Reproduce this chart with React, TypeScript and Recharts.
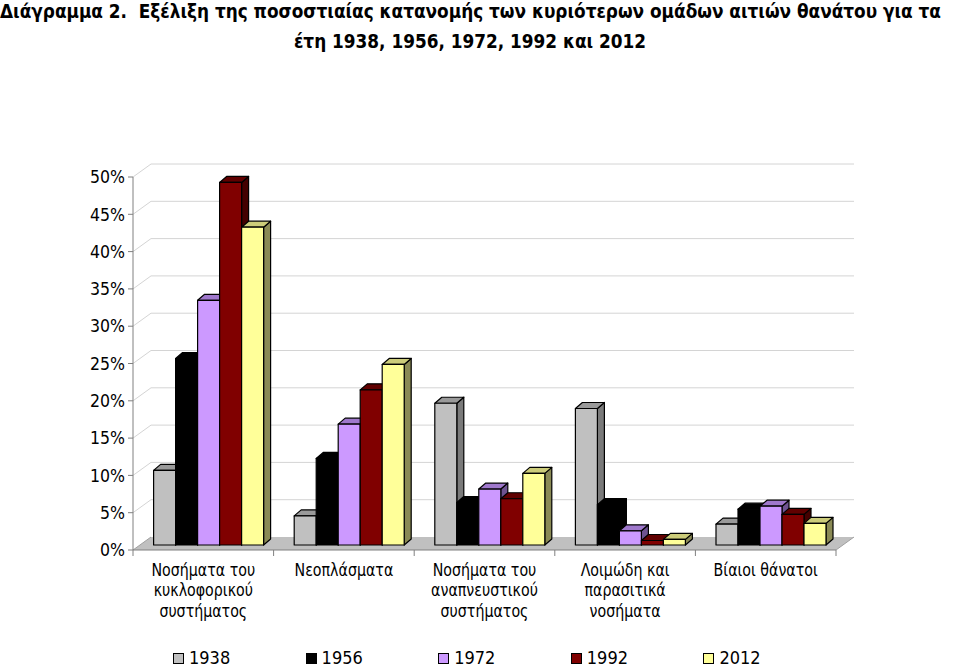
import { Bar, BarChart, CartesianGrid, XAxis, YAxis } from 'recharts';

const categories = [
  'Νοσήματα του κυκλοφορικού συστήματος',
  'Νεοπλάσματα',
  'Νοσήματα του αναπνευστικού συστήματος',
  'Λοιμώδη και παρασιτικά νοσήματα',
  'Βίαιοι θάνατοι',
];
const categoryLines = [
  ['Νοσήματα του', 'κυκλοφορικού', 'συστήματος'],
  ['Νεοπλάσματα'],
  ['Νοσήματα του', 'αναπνευστικού', 'συστήματος'],
  ['Λοιμώδη και', 'παρασιτικά', 'νοσήματα'],
  ['Βίαιοι θάνατοι'],
];
const years = ['1938', '1956', '1972', '1992', '2012'];
const v1938 = [0.1, 0.039, 0.19, 0.183, 0.028];
const v1956 = [0.25, 0.116, 0.057, 0.054, 0.048];
const v1972 = [0.328, 0.162, 0.075, 0.019, 0.052];
const v1992 = [0.486, 0.208, 0.062, 0.006, 0.041];
const v2012 = [0.426, 0.242, 0.096, 0.0075, 0.029];
const yTicks = [0, 0.05, 0.1, 0.15, 0.2, 0.25, 0.3, 0.35, 0.4, 0.45, 0.5];

const seriesValues = [v1938, v1956, v1972, v1992, v2012];
const faceColors = ['#c0c0c0', '#000000', '#cc99ff', '#800000', '#ffff99'];
const topColors = ['#9a9a9a', '#000000', '#9f78cc', '#600000', '#cccc7a'];
const sideColors = ['#7a7a7a', '#000000', '#6e5391', '#440000', '#8a8a55'];

const data = categories.map((name, i) => {
  const row: Record<string, string | number> = { name, idx: i };
  years.forEach((y, s) => (row[y] = seriesValues[s][i]));
  return row;
});

const W = 959;
const H = 669;
const MARGIN = { top: 177, right: 123, bottom: 0, left: 0 };
const Y_AXIS_W = 133;
const X_AXIS_H = 119;
const PLOT_BOTTOM = H - MARGIN.bottom - X_AXIS_H;
const BAND = (W - MARGIN.left - MARGIN.right - Y_AXIS_W) / categories.length;
const FONT = '"DejaVu Sans Condensed", "DejaVu Sans", sans-serif';

// 3d look: wall depth and bar depth
const WALL_DX = 18;
const WALL_DY = 13;
const BAR_SX = 5;
const BAR_SY = -5;
const DEPTH_X = 7;
const DEPTH_Y = 6;

function Box(props: any) {
  const { width, height, s } = props;
  if (width == null || height == null) return null;
  const x = props.x + BAR_SX;
  const y = props.y + BAR_SY;
  const w = width;
  const h = height;
  const pts = (a: number[][]) => a.map((p) => p.join(',')).join(' ');
  return (
    <g stroke="#000" strokeWidth={1.2} strokeLinejoin="round">
      <polygon
        points={pts([[x + w, y], [x + w + DEPTH_X, y - DEPTH_Y], [x + w + DEPTH_X, y + h - DEPTH_Y], [x + w, y + h]])}
        fill={sideColors[s]}
      />
      <polygon
        points={pts([[x, y], [x + w, y], [x + w + DEPTH_X, y - DEPTH_Y], [x + DEPTH_X, y - DEPTH_Y]])}
        fill={topColors[s]}
      />
      <rect x={x} y={y} width={w} height={h} fill={faceColors[s]} />
    </g>
  );
}

function GridLine(props: any) {
  const { x1, x2, y1 } = props;
  const isFloor = Math.abs(y1 - PLOT_BOTTOM) < 1;
  if (isFloor) {
    return (
      <g>
        <polygon
          points={`${x1},${y1} ${x2},${y1} ${x2 + WALL_DX},${y1 - WALL_DY} ${x1 + WALL_DX},${y1 - WALL_DY}`}
          fill="#c0c0c0"
        />
        <line x1={x2} y1={y1} x2={x2 + WALL_DX} y2={y1 - WALL_DY} stroke="#a0a0a0" />
        <line x1={x1} y1={y1} x2={x1 + WALL_DX} y2={y1 - WALL_DY} stroke="#a0a0a0" />
      </g>
    );
  }
  return (
    <g stroke="#d4d4d4" strokeWidth={1}>
      <line x1={x1 + WALL_DX} y1={y1 - WALL_DY} x2={x2 + WALL_DX} y2={y1 - WALL_DY} />
      <line x1={x1} y1={y1} x2={x1 + WALL_DX} y2={y1 - WALL_DY} />
    </g>
  );
}

function CategoryTick(props: any) {
  const { x, payload, index } = props;
  const lines = categoryLines[payload.index ?? index] || [payload.value];
  const left = x - BAND / 2;
  return (
    <g>
      <line x1={left} y1={PLOT_BOTTOM} x2={left} y2={PLOT_BOTTOM + 6} stroke="#808080" />
      {index === categories.length - 1 && (
        <line x1={x + BAND / 2} y1={PLOT_BOTTOM} x2={x + BAND / 2} y2={PLOT_BOTTOM + 6} stroke="#808080" />
      )}
      <text
        transform={`translate(${x},0) scale(0.93,1)`}
        x={0}
        y={PLOT_BOTTOM + 26}
        textAnchor="middle"
        fontSize={17}
        fontFamily={FONT}
        fill="#000"
      >
        {lines.map((l: string, i: number) => (
          <tspan key={i} x={0} dy={i === 0 ? 0 : 20.5}>
            {l}
          </tspan>
        ))}
      </text>
    </g>
  );
}

export default function App() {
  return (
    <div style={{ position: 'absolute', left: 0, top: 0, width: W, height: H, background: '#fff', fontFamily: FONT }}>
      <div style={{ position: 'absolute', left: 0, top: 0, fontSize: 18.8, fontWeight: 'bold', lineHeight: '24px', whiteSpace: 'nowrap' }}>
        Διάγραμμα 2.&nbsp; Εξέλιξη της ποσοστιαίας κατανομής των κυριότερων ομάδων αιτιών θανάτου για τα
      </div>
      <div style={{ position: 'absolute', left: 0, width: 940, top: 30, textAlign: 'center', fontSize: 18.8, fontWeight: 'bold', lineHeight: '24px', whiteSpace: 'nowrap' }}>
        έτη 1938, 1956, 1972, 1992 και 2012
      </div>
      <BarChart width={W} height={H} data={data} margin={MARGIN} barCategoryGap={15.6} barGap={0}>
        <CartesianGrid vertical={false} horizontal={(p: any) => <GridLine {...p} />} />
        <XAxis
          dataKey="name"
          height={X_AXIS_H}
          tickLine={false}
          axisLine={{ stroke: '#808080' }}
          tick={(p: any) => <CategoryTick {...p} />}
          interval={0}
        />
        <YAxis
          width={Y_AXIS_W}
          domain={[0, 0.5]}
          ticks={yTicks}
          tickFormatter={(v: number) => `${Math.round(v * 100)}%`}
          axisLine={{ stroke: '#808080' }}
          tickLine={{ stroke: '#808080' }}
          tickSize={5}
          tickMargin={3}
          tick={{ fill: '#000', fontSize: 17.5, fontFamily: FONT }}
        />
        {years.map((y, s) => (
          <Bar key={y} dataKey={y} isAnimationActive={false} shape={(p: any) => <Box {...p} s={s} />} />
        ))}
      </BarChart>
      {years.map((y, s) => (
        <div
          key={y}
          style={{ position: 'absolute', top: 647, left: 173 + s * 132.6, display: 'flex', alignItems: 'center', fontSize: 18, lineHeight: '22px' }}
        >
          <span style={{ width: 9, height: 9, border: '1px solid #000', background: faceColors[s], marginRight: 5, display: 'inline-block' }} />
          {y}
        </div>
      ))}
    </div>
  );
}
